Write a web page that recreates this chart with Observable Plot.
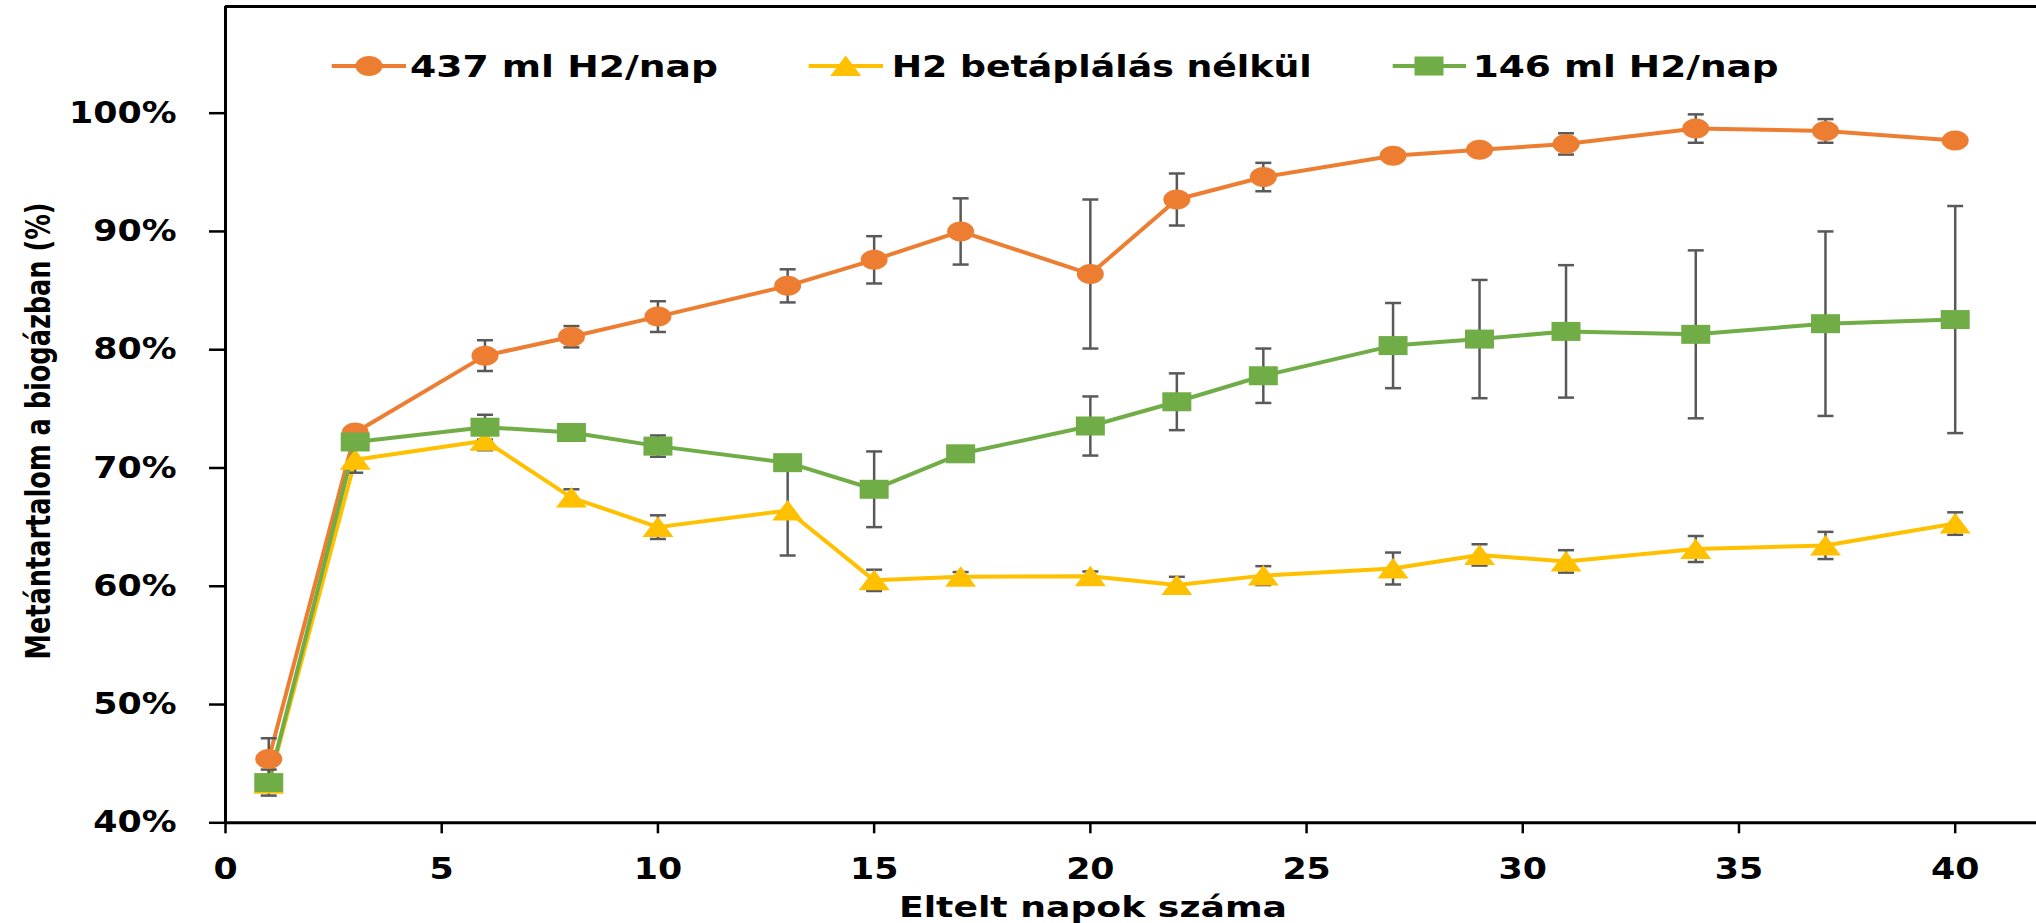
<!DOCTYPE html>
<html><head><meta charset="utf-8">
<script src="https://cdn.jsdelivr.net/npm/d3@7"></script>
<script src="https://cdn.jsdelivr.net/npm/@observablehq/plot@0.6"></script>
<style>html,body{margin:0;padding:0;background:#fff;overflow:hidden}#chart svg{display:block}</style>
</head><body><div id="chart"></div>
<script>
// ---- data ----
const days = [1, 3, 6, 8, 10, 13, 15, 17, 20, 22, 24, 27, 29, 31, 34, 37, 40];
const seriesNames = ["437 ml H2/nap", "H2 betáplálás nélkül", "146 ml H2/nap"];
const h437 = [45.4, 73.0, 79.5, 81.1, 82.8, 85.4, 87.6, 90.0, 86.4, 92.7, 94.6, 96.4, 96.9, 97.4, 98.7, 98.5, 97.7];
const h437Err = [1.75, 0, 1.3, 0.9, 1.3, 1.4, 2.0, 2.8, 6.3, 2.2, 1.2, 0, 0, 0.9, 1.2, 1.0, 0];
const noH2 = [43.3, 70.7, 72.3, 67.5, 65.0, 66.4, 60.5, 60.8, 60.85, 60.1, 60.9, 61.5, 62.65, 62.1, 63.15, 63.45, 65.3];
const noH2Err = [0.5, 1.1, 0.8, 0.7, 1.0, 3.8, 0.9, 0.4, 0.4, 0.7, 0.8, 1.35, 0.9, 0.95, 1.1, 1.15, 0.95];
const h146 = [43.4, 72.2, 73.45, 73.0, 71.85, 70.45, 68.2, 71.2, 73.55, 75.6, 77.8, 80.35, 80.9, 81.55, 81.3, 82.2, 82.55];
const h146Err = [1.1, 0, 1.05, 0, 0.9, 0, 3.2, 0, 2.5, 2.4, 2.3, 3.6, 5.0, 5.6, 7.1, 7.8, 9.6];
const xTicks = [0, 5, 10, 15, 20, 25, 30, 35, 40];
const yTicks = [40, 50, 60, 70, 80, 90, 100];
const xDomain = [0, 41.88];
const yDomain = [40, 109.02];
const xTitle = "Eltelt napok száma";
const yTitle = "Metántartalom a biogázban (%)";

// ---- styles ----
const colors = ["#ED7D31", "#FFC000", "#70AD47"];
const errColor = "#595959";
const K = 0.5523;
const symEllipse = {draw(c) { const rx = 13.5, ry = 10;
  c.moveTo(rx, 0);
  c.bezierCurveTo(rx, ry * K, rx * K, ry, 0, ry);
  c.bezierCurveTo(-rx * K, ry, -rx, ry * K, -rx, 0);
  c.bezierCurveTo(-rx, -ry * K, -rx * K, -ry, 0, -ry);
  c.bezierCurveTo(rx * K, -ry, rx, -ry * K, rx, 0);
  c.closePath(); }};
const symTri = {draw(c) { c.moveTo(0, -10.5); c.lineTo(15.5, 10); c.lineTo(-15.5, 10); c.closePath(); }};
const symRect = {draw(c) { c.rect(-14.5, -9.5, 29, 19); }};
const symCap = {draw(c) { c.moveTo(-8, 0); c.lineTo(8, 0); }};
const symbols = [symEllipse, symTri, symRect];

const values = [h437, noH2, h146];
const errs = [h437Err, noH2Err, h146Err];
const series = values.map((vals, s) => vals.map((v, i) => ({series: seriesNames[s], day: days[i], v, err: errs[s][i]})));

const marks = [];
series.forEach((rows, s) => {
  const er = rows.filter(d => d.err > 0);
  marks.push(Plot.line(rows, {x: "day", y: "v", stroke: colors[s], strokeWidth: 4, strokeLinejoin: "round"}));
  marks.push(Plot.ruleX(er, {x: "day", y1: d => d.v - d.err, y2: d => d.v + d.err, stroke: errColor, strokeWidth: 2.5}));
  marks.push(Plot.dot(er, {x: "day", y: d => d.v + d.err, symbol: symCap, stroke: errColor, strokeWidth: 2.5, fill: "none"}));
  marks.push(Plot.dot(er, {x: "day", y: d => d.v - d.err, symbol: symCap, stroke: errColor, strokeWidth: 2.5, fill: "none"}));
});
series.forEach((rows, s) => {
  marks.push(Plot.dot(rows, {x: "day", y: "v", symbol: symbols[s], fill: colors[s], stroke: "none"}));
});

const W = 2036, H = 923;
const chart = Plot.plot({
  width: W, height: H,
  marginLeft: 225, marginRight: 0, marginTop: 6, marginBottom: H - 822.3,
  x: {domain: xDomain, ticks: xTicks},
  y: {domain: yDomain, ticks: yTicks},
  style: {fontFamily: "DejaVu Sans", fontWeight: "bold", fontSize: "30px", color: "#000", background: "#fff"},
  marks: [
    Plot.axisX({ticks: xTicks, tickSize: 11, tickPadding: 24, strokeWidth: 2.5, label: null}),
    Plot.axisY({ticks: yTicks, tickSize: 16, tickPadding: 33, strokeWidth: 2.5, label: null, tickFormat: d => d + "%"}),
    ...marks,
    Plot.ruleX([xDomain[0]], {stroke: "#000", strokeWidth: 3}),
    Plot.ruleY([yDomain[0]], {stroke: "#000", strokeWidth: 3}),
    Plot.ruleY([yDomain[1]], {stroke: "#000", strokeWidth: 3})
  ]
});
document.getElementById("chart").appendChild(chart);

// horizontal stretch of tick labels to match the reference
chart.querySelectorAll("text").forEach(t => {
  const len = t.getComputedTextLength();
  t.setAttribute("textLength", (len * 1.16).toFixed(1));
  t.setAttribute("lengthAdjust", "spacingAndGlyphs");
});

const svg = d3.select(chart);
// axis titles
svg.append("text").attr("x", 1093).attr("y", 916.7).attr("text-anchor", "middle")
  .attr("font-size", 28).attr("font-weight", "bold").attr("font-family", "DejaVu Sans").attr("fill", "#000")
  .attr("textLength", 388).attr("lengthAdjust", "spacingAndGlyphs").text(xTitle);
svg.append("text").attr("transform", "translate(50,431) rotate(-90)").attr("text-anchor", "middle")
  .attr("font-size", 33).attr("font-weight", "bold").attr("font-family", "DejaVu Sans").attr("fill", "#000")
  .attr("textLength", 457).attr("lengthAdjust", "spacingAndGlyphs").text(yTitle);

// legend
const legendItems = [
  {x0: 331.7, x1: 406, cx: 369, tx: 410, tl: 308},
  {x0: 808.7, x1: 883, cx: 845.7, tx: 891.7, tl: 420},
  {x0: 1392.7, x1: 1466, cx: 1429, tx: 1472.7, tl: 306}
];
const ly = 66;
legendItems.forEach((it, s) => {
  const g = svg.append("g");
  g.append("line").attr("x1", it.x0).attr("x2", it.x1).attr("y1", ly).attr("y2", ly)
    .attr("stroke", colors[s]).attr("stroke-width", 4);
  g.append("path").attr("d", d3.symbol().type(symbols[s])()).attr("transform", `translate(${it.cx},${ly})`).attr("fill", colors[s]);
  g.append("text").attr("x", it.tx).attr("y", 76.7).attr("text-anchor", "start").attr("font-size", 30).attr("font-weight", "bold")
    .attr("font-family", "DejaVu Sans").attr("fill", "#000")
    .attr("textLength", it.tl).attr("lengthAdjust", "spacingAndGlyphs").text(seriesNames[s]);
});
</script>
</body></html>
